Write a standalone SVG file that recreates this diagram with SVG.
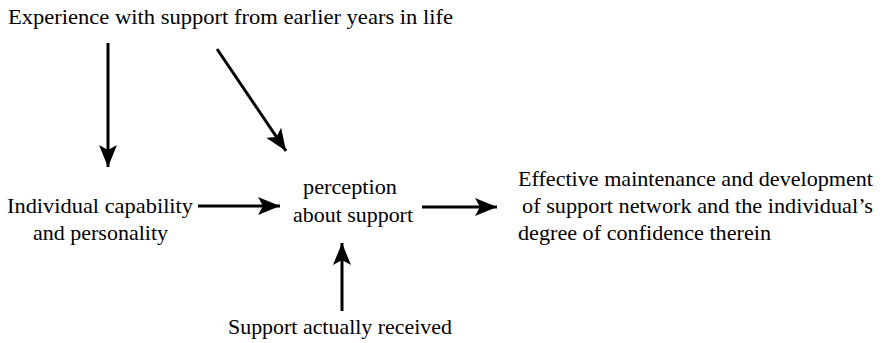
<svg xmlns="http://www.w3.org/2000/svg" width="882" height="343" viewBox="0 0 882 343">
<style>
text{font-family:'Liberation Serif','DejaVu Serif','Times New Roman',serif;font-size:22px;fill:#000}
.c line{stroke:#000;stroke-width:3}
</style>
<defs>
<marker id="ah" markerUnits="userSpaceOnUse" markerWidth="24" markerHeight="20" refX="22" refY="9" orient="auto">
<path d="M0,0 L22,9 L0,18 L5,9 Z" fill="#000"/>
</marker>
</defs>
<rect width="882" height="343" fill="#fff"/>
<g id="n-experience"><text x="8" y="24" textLength="445" lengthAdjust="spacingAndGlyphs">Experience with support from earlier years in life</text></g>
<g id="n-individual">
<text x="7" y="213" textLength="186" lengthAdjust="spacingAndGlyphs">Individual capability</text>
<text x="33" y="240" textLength="135" lengthAdjust="spacingAndGlyphs">and personality</text>
</g>
<g id="n-perception">
<text x="303" y="194" textLength="94" lengthAdjust="spacingAndGlyphs">perception</text>
<text x="293" y="222" textLength="120" lengthAdjust="spacingAndGlyphs">about support</text>
</g>
<g id="n-effective">
<text x="518" y="186" textLength="355" lengthAdjust="spacingAndGlyphs">Effective maintenance and development</text>
<text x="522" y="213" textLength="351" lengthAdjust="spacingAndGlyphs">of support network and the individual’s</text>
<text x="518" y="240" textLength="253" lengthAdjust="spacingAndGlyphs">degree of confidence therein</text>
</g>
<g id="n-received"><text x="228" y="334" textLength="224" lengthAdjust="spacingAndGlyphs">Support actually received</text></g>
<g id="connectors" class="c">
<line x1="108" y1="43" x2="108" y2="167" marker-end="url(#ah)"/>
<line x1="217" y1="49" x2="286" y2="151" marker-end="url(#ah)"/>
<line x1="198" y1="206" x2="280" y2="206" marker-end="url(#ah)"/>
<line x1="422" y1="207" x2="497" y2="207" marker-end="url(#ah)"/>
<line x1="342" y1="311" x2="342" y2="243" marker-end="url(#ah)"/>
</g>
</svg>
